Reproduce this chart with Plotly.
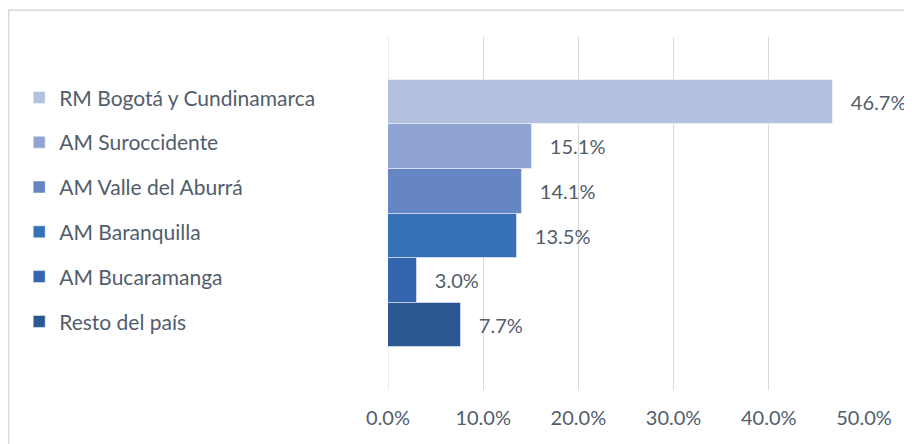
import plotly.graph_objects as go

categories = ["RM Bogotá y Cundinamarca", "AM Suroccidente", "AM Valle del Aburrá",
              "AM Baranquilla", "AM Bucaramanga", "Resto del país"]
values = [46.7, 15.1, 14.1, 13.5, 3.0, 7.7]
colors = ["#B3C0DE", "#90A4D4", "#6685C3", "#3570B8", "#3366AE", "#2B5892"]
tick_vals = [0, 10, 20, 30, 40, 50]
tick_text = ["0.0%", "10.0%", "20.0%", "30.0%", "40.0%", "50.0%"]

FONT = "Lato"
TXT = "#525D6C"

fig = go.Figure()
for cat, val, col in zip(categories, values, colors):
    fig.add_trace(go.Bar(
        y=[cat], x=[val], orientation="h", name=cat,
        marker=dict(color=col, line=dict(color="rgba(255,255,255,0.5)", width=1)),
        width=1, legendgroup=cat,
        text=[f"   {val:.1f}%"], textposition="outside", cliponaxis=False,
        textfont=dict(family=FONT, size=20, color=TXT),
    ))

# page has an 8px body margin; figure coordinates are relative to it
W, H = 904, 436
L, T = 380.3, 28.7
pw, ph = 476, 353.3
R, B = W - L - pw, H - T - ph

fig.update_layout(
    width=W, height=H,
    margin=dict(l=L, r=R, t=T, b=B, autoexpand=False),
    paper_bgcolor="white", plot_bgcolor="white",
    barmode="overlay", bargap=0,
    font=dict(family=FONT, size=20, color=TXT),
    showlegend=True,
    legend=dict(
        x=(11.5 - L) / pw, xanchor="left",
        y=(H - B - 69) / ph, yanchor="top",
        traceorder="grouped", tracegroupgap=14.5,
        font=dict(family=FONT, size=21, color=TXT),
        bgcolor="rgba(0,0,0,0)",
    ),
    xaxis=dict(
        range=[0, 50], tickvals=tick_vals, ticktext=tick_text,
        showgrid=True, gridcolor="#D9D9D9", gridwidth=1,
        zeroline=False, showline=False,
        ticks="outside", ticklen=10, tickcolor="rgba(0,0,0,0)",
        tickfont=dict(family=FONT, size=20, color=TXT),
    ),
    yaxis=dict(
        type="category", categoryorder="array", categoryarray=categories,
        range=[5.5 + 0.954, -0.5 - 0.954],
        showticklabels=False, showgrid=False, zeroline=False, showline=False,
    ),
    shapes=[dict(
        type="rect", xref="paper", yref="paper",
        x0=(1 - L) / pw, x1=(W + 20 - L) / pw,
        y0=-(B + 20) / ph, y1=(H - B - 2) / ph,
        line=dict(color="#D9D9D9", width=1.5), fillcolor="rgba(0,0,0,0)", layer="below",
    )],
)
fig.add_vline(x=0, line=dict(color="#D9D9D9", width=1), layer="below")

fig.write_html("out.html")
